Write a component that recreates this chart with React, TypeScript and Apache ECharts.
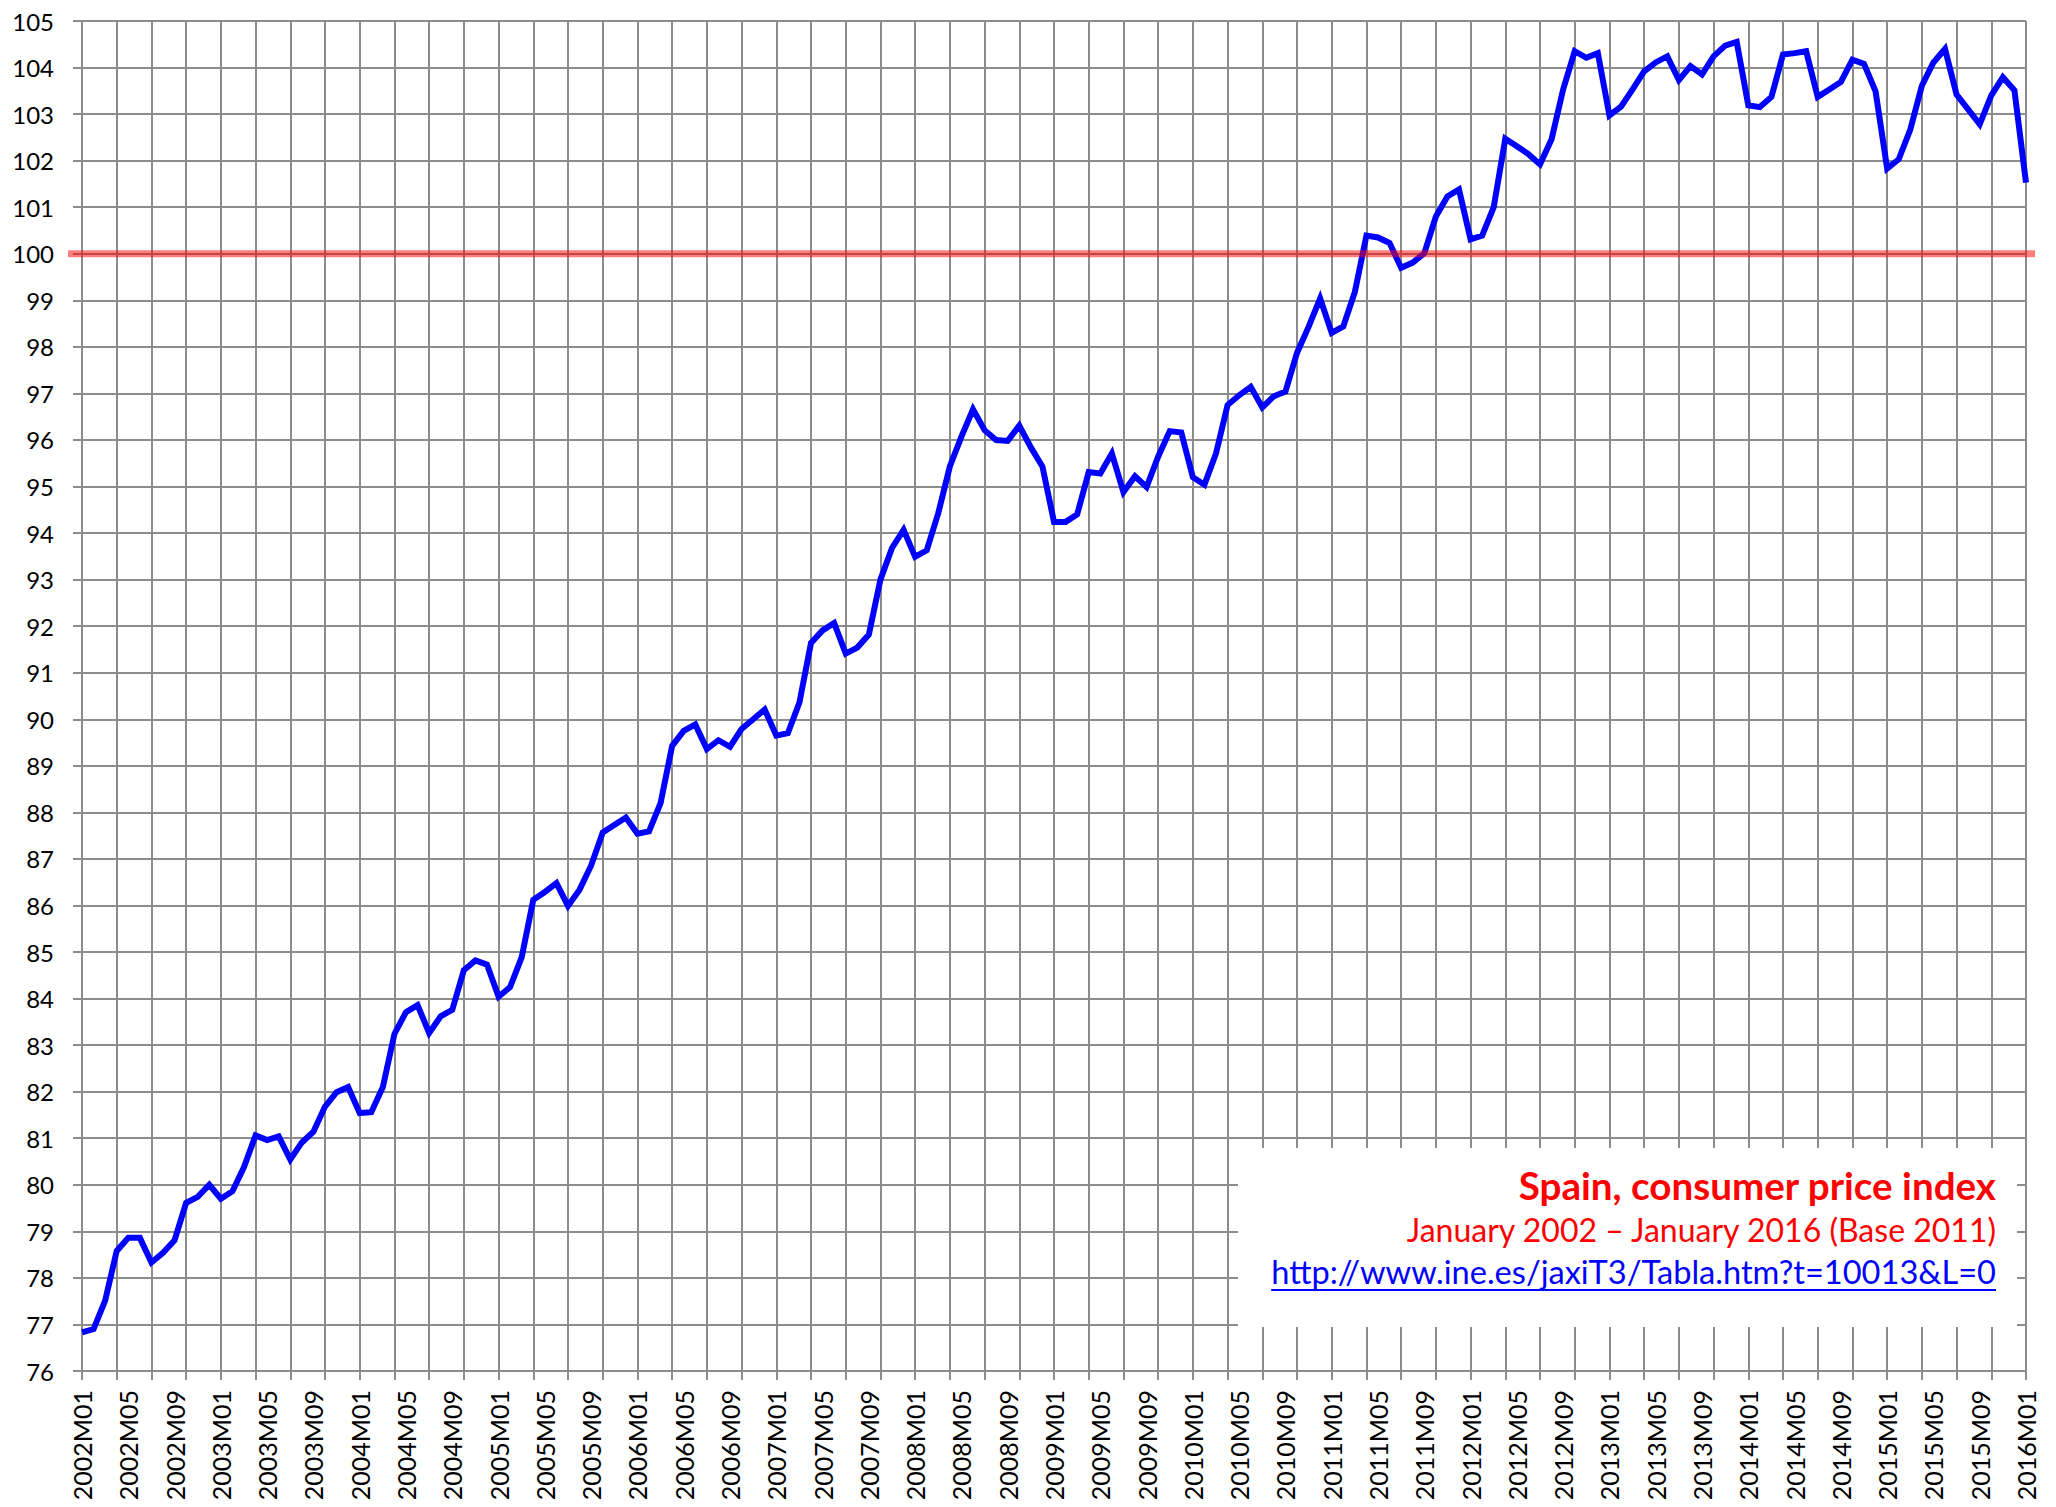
import React, { useEffect, useRef } from "react";
import * as echarts from "echarts";

const years = [2002, 2003, 2004, 2005, 2006, 2007, 2008, 2009, 2010, 2011, 2012, 2013, 2014, 2015, 2016];

const cpi2002 = [76.83, 76.9, 77.51, 78.58, 78.86, 78.86, 78.33, 78.54, 78.81, 79.61, 79.74, 80.0];
const cpi2003 = [79.7, 79.86, 80.38, 81.06, 80.96, 81.04, 80.54, 80.91, 81.14, 81.68, 81.99, 82.1];
const cpi2004 = [81.54, 81.56, 82.1, 83.24, 83.71, 83.86, 83.26, 83.62, 83.76, 84.61, 84.82, 84.73];
const cpi2005 = [84.04, 84.25, 84.89, 86.12, 86.29, 86.48, 85.99, 86.34, 86.86, 87.57, 87.73, 87.89];
const cpi2006 = [87.54, 87.59, 88.2, 89.43, 89.75, 89.89, 89.36, 89.55, 89.41, 89.79, 90.0, 90.21];
const cpi2007 = [89.65, 89.7, 90.36, 91.64, 91.91, 92.07, 91.41, 91.54, 91.82, 93.0, 93.68, 94.07];
const cpi2008 = [93.49, 93.63, 94.43, 95.43, 96.07, 96.66, 96.21, 96.0, 95.98, 96.31, 95.84, 95.43];
const cpi2009 = [94.24, 94.24, 94.4, 95.31, 95.28, 95.71, 94.88, 95.22, 94.99, 95.64, 96.19, 96.16];
const cpi2010 = [95.2, 95.04, 95.71, 96.75, 96.96, 97.14, 96.7, 96.94, 97.04, 97.87, 98.43, 99.04];
const cpi2011 = [98.3, 98.44, 99.18, 100.39, 100.35, 100.23, 99.7, 99.81, 100.01, 100.8, 101.23, 101.38];
const cpi2012 = [100.31, 100.39, 101.0, 102.47, 102.31, 102.14, 101.92, 102.46, 103.53, 104.35, 104.21, 104.31];
const cpi2013 = [102.97, 103.16, 103.53, 103.92, 104.11, 104.24, 103.73, 104.03, 103.85, 104.24, 104.47, 104.55];
const cpi2014 = [103.19, 103.15, 103.37, 104.28, 104.31, 104.35, 103.37, 103.53, 103.69, 104.17, 104.08, 103.49];
const cpi2015 = [101.83, 102.03, 102.67, 103.61, 104.11, 104.4, 103.42, 103.1, 102.78, 103.4, 103.79, 103.51];
const cpi2016 = [101.53];

const yearlyValues = [cpi2002, cpi2003, cpi2004, cpi2005, cpi2006, cpi2007, cpi2008, cpi2009, cpi2010, cpi2011, cpi2012, cpi2013, cpi2014, cpi2015, cpi2016];

const yMin = 76;
const yMax = 105;
const yStep = 1;
const baseValue = 100;

const titleText = "Spain, consumer price index";
const subtitleText = "January 2002 \u2013 January 2016 (Base 2011)";
const urlText = "http://www.ine.es/jaxiT3/Tabla.htm?t=10013&L=0";

const categories: string[] = [];
const values: number[] = [];
years.forEach((y, i) => {
  yearlyValues[i].forEach((v, m) => {
    categories.push(`${y}M${String(m + 1).padStart(2, "0")}`);
    values.push(v);
  });
});

const GRID = "#8c8c8c";
const FONT = "Lato";

export default function App() {
  const ref = useRef<HTMLDivElement>(null);
  useEffect(() => {
    if (!ref.current) return;
    const chart = echarts.init(ref.current, undefined, { renderer: "svg" });

    const urlFont = `32.6px ${FONT}`;
    const canvas = document.createElement("canvas");
    const ctx = canvas.getContext("2d")!;
    ctx.font = urlFont;
    const urlWidth = ctx.measureText(urlText).width;

    const textRight = 1996;

    chart.setOption({
      animation: false,
      backgroundColor: "#ffffff",
      grid: [
        { left: 82, right: 30, top: 21, bottom: 136 },
        { left: 68, right: 21, top: 21, bottom: 136 },
      ],
      xAxis: [
        {
          type: "category",
          gridIndex: 0,
          data: categories,
          boundaryGap: false,
          axisLine: { show: true, lineStyle: { color: GRID, width: 2 } },
          axisTick: { show: true, interval: 2, length: 9, lineStyle: { color: GRID, width: 2 } },
          axisLabel: { interval: 3, rotate: 90, fontSize: 25, color: "#000", fontFamily: FONT, margin: 19 },
          splitLine: { show: true, interval: 2, lineStyle: { color: GRID, width: 2 } },
        },
        { type: "value", gridIndex: 1, min: 0, max: 1, show: false },
      ],
      yAxis: [
        {
          type: "value",
          gridIndex: 0,
          min: yMin,
          max: yMax,
          interval: yStep,
          axisLine: { show: true, lineStyle: { color: GRID, width: 2 } },
          axisTick: { show: true, length: 9, lineStyle: { color: GRID, width: 2 } },
          axisLabel: { fontSize: 24, color: "#000", fontFamily: FONT, margin: 28 },
          splitLine: { show: true, lineStyle: { color: GRID, width: 2 } },
        },
        { type: "value", gridIndex: 1, min: yMin, max: yMax, show: false },
      ],
      series: [
        {
          type: "line",
          xAxisIndex: 0,
          yAxisIndex: 0,
          data: values,
          showSymbol: false,
          symbol: "none",
          lineStyle: { color: "#0000ff", width: 6, join: "miter" },
          z: 3,
        },
        {
          type: "line",
          xAxisIndex: 1,
          yAxisIndex: 1,
          data: [
            [0, baseValue],
            [1, baseValue],
          ],
          showSymbol: false,
          symbol: "none",
          lineStyle: { color: "rgba(255,0,0,0.5)", width: 7 },
          z: 5,
        },
      ],
      graphic: [
        {
          type: "rect",
          shape: { x: 1238, y: 1148, width: 779, height: 179 },
          style: { fill: "#ffffff" },
          z: 10,
        },
        {
          type: "text",
          x: textRight,
          y: 1185,
          z: 11,
          style: {
            text: titleText,
            align: "right",
            verticalAlign: "middle",
            fill: "#ff0000",
            font: `bold 38.6px ${FONT}`,
          },
        },
        {
          type: "text",
          x: textRight,
          y: 1229,
          z: 11,
          style: {
            text: subtitleText,
            align: "right",
            verticalAlign: "middle",
            fill: "#ff0000",
            font: `32px ${FONT}`,
          },
        },
        {
          type: "text",
          x: textRight,
          y: 1271,
          z: 11,
          style: {
            text: urlText,
            align: "right",
            verticalAlign: "middle",
            fill: "#0000ff",
            font: urlFont,
          },
        },
        {
          type: "line",
          z: 11,
          shape: { x1: textRight - urlWidth, y1: 1290, x2: textRight, y2: 1290 },
          style: { stroke: "#0000ff", lineWidth: 2 },
        },
      ],
    });
    return () => chart.dispose();
  }, []);

  return (
    <div
      ref={ref}
      style={{ position: "fixed", left: 0, top: 0, width: 2056, height: 1507, background: "#fff" }}
    />
  );
}
